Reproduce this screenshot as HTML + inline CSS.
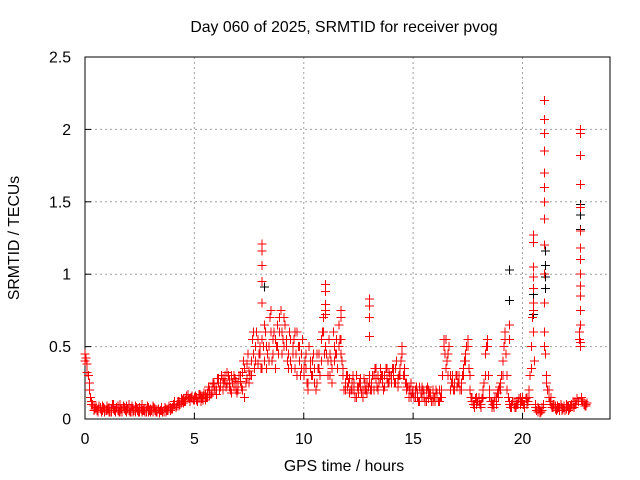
<!DOCTYPE html>
<html><head><meta charset="utf-8"><style>
body{margin:0;background:#fff}
svg{display:block;font-family:"Liberation Sans",sans-serif}
</style></head><body>
<svg id="chart" width="640" height="480">
<text x="344" y="32" text-anchor="middle" font-size="15.8">Day 060 of 2025, SRMTID for receiver pvog</text>
<text x="344" y="471" text-anchor="middle" font-size="15.8">GPS time / hours</text>
<text x="19" y="238" text-anchor="middle" font-size="15.8" transform="rotate(-90 19 238)">SRMTID / TECUs</text>
<g id="grid"></g>
<g id="axes"></g>
<g id="marks" shape-rendering="crispEdges"></g>
</svg>
<script>
const xTicks=[0,5,10,15,20];
const yTicks=[0,0.5,1,1.5,2,2.5];
const yTickLabels=["0","0.5","1","1.5","2","2.5"];
const hours=[];
for(let i=0;i<230;i++)hours.push(+(i*0.1).toFixed(1));
const hoursB=hours.map(h=>+(h+0.05).toFixed(2));
const srmtid=[
.45,.38,.2,.12,.09,.08,.07,.08,.06,.07,
.06,.08,.05,.07,.06,.09,.05,.06,.08,.05,
.06,.05,.07,.05,.06,.08,.05,.07,.06,.05,
.07,.05,.06,.05,.04,.06,.05,.07,.06,.08,
.08,.1,.09,.12,.11,.14,.13,.15,.12,.14,
.13,.15,.14,.16,.13,.17,.15,.2,.18,.22,
.2,.25,.22,.28,.3,.24,.27,.3,.22,.26,
.25,.3,.2,.35,.28,.33,.4,.45,.5,.38,
.45,.55,.4,.35,.5,.6,.45,.55,.65,.7,
.6,.5,.55,.45,.4,.5,.35,.6,.4,.45,
.3,.35,.25,.4,.3,.35,.25,.45,.55,.6,
.5,.4,.3,.35,.5,.55,.65,.45,.3,.25,
.22,.28,.2,.25,.3,.18,.22,.2,.25,.18,
.3,.25,.2,.28,.3,.35,.25,.3,.28,.32,
.3,.35,.25,.28,.3,.45,.35,.2,.15,.25,
.2,.15,.18,.22,.15,.18,.2,.14,.16,.2,
.15,.18,.2,.15,.5,.55,.45,.3,.25,.2,
.22,.3,.25,.35,.45,.5,.2,.12,.1,.15,
.12,.1,.15,.45,.55,.15,.08,.12,.15,.2,
.25,.4,.55,.2,.1,.08,.1,.12,.1,.15,
.12,.1,.15,.2,.5,.9,.08,.05,.06,.08,
.6,.3,.15,.1,.08,.07,.09,.08,.06,.08,
.07,.09,.08,.1,.12,.14,.6,.15,.1,.1];
const srmtidB=[
.42,.3,.15,.1,.07,.06,.09,.05,.08,.06,
.07,.05,.1,.06,.08,.05,.07,.09,.06,.07,
.05,.09,.06,.08,.05,.07,.06,.05,.09,.06,
.06,.08,.05,.07,.06,.05,.08,.06,.09,.07,
.1,.08,.12,.1,.13,.12,.16,.14,.15,.13,
.16,.12,.17,.14,.18,.15,.22,.17,.25,.2,
.28,.2,.3,.25,.22,.3,.2,.25,.28,.18,
.3,.22,.4,.25,.45,.3,.55,.35,.6,.45,
.35,.5,.6,.45,.7,.4,.6,.5,.45,.75,
.55,.65,.4,.6,.35,.55,.45,.5,.3,.55,
.4,.25,.5,.3,.45,.2,.35,.3,.6,.45,
.45,.55,.4,.6,.45,.35,.55,.4,.2,.3,
.25,.2,.3,.15,.22,.25,.18,.28,.2,.22,
.2,.3,.35,.22,.25,.3,.2,.35,.25,.3,
.35,.25,.4,.3,.4,.3,.25,.22,.2,.18,
.15,.22,.12,.18,.2,.12,.22,.18,.12,.15,
.2,.12,.15,.3,.45,.4,.5,.25,.2,.3,
.25,.2,.3,.4,.5,.35,.15,.1,.14,.12,
.1,.14,.25,.5,.3,.12,.1,.15,.18,.22,
.3,.5,.45,.15,.08,.12,.08,.1,.14,.12,
.1,.14,.12,.3,.7,.4,.06,.07,.05,.1,
.45,.2,.12,.08,.1,.06,.08,.1,.07,.06,
.09,.07,.1,.08,.1,.12,.5,.12,.09,.11];
const srmtidC=[
.4,.32,.25,.1,.06,.09,.05,.07,.09,.05,
.09,.05,.07,.1,.05,.06,.1,.05,.07,.09,
.1,.07,.05,.09,.07,.05,.1,.06,.05,.08,
.05,.09,.07,.06,.05,.08,.06,.05,.07,.06,
.07,.12,.1,.09,.14,.11,.12,.17,.14,.16,
.15,.13,.17,.12,.16,.13,.18,.16,.2,.24,
.17,.28,.25,.2,.27,.32,.22,.18,.3,.2,
.2,.26,.32,.15,.38,.25,.3,.6,.4,.55,
.5,.35,.65,.5,.4,.75,.55,.35,.5,.6,
.45,.7,.5,.35,.55,.45,.6,.3,.5,.35,
.35,.45,.2,.35,.4,.25,.45,.35,.4,.7,
.75,.3,.45,.25,.4,.45,.5,.55,.35,.2,
.3,.18,.25,.2,.15,.22,.28,.15,.2,.25,
.25,.2,.3,.35,.2,.28,.3,.22,.35,.25,
.25,.3,.35,.22,.35,.5,.3,.25,.22,.15,
.18,.2,.15,.12,.22,.15,.12,.2,.18,.12,
.12,.15,.12,.2,.55,.35,.3,.2,.3,.25,
.3,.25,.2,.3,.4,.55,.3,.15,.08,.1,
.15,.08,.2,.3,.5,.2,.12,.08,.1,.15,
.2,.3,.6,.3,.12,.1,.12,.08,.12,.1,
.15,.08,.1,.15,.35,.8,.1,.08,.04,.06,
.5,.25,.2,.15,.1,.09,.07,.06,.08,.09,
.1,.06,.09,.12,.1,.13,.55,.13,.12,.09];
const spikeHours=[8.1,8.1,8.1,8.1,8.1,11,11,11,11,11.7,11.7,13,13,13,13,19.4,19.4,
20.5,20.5,20.5,20.5,20.5,20.5,20.5,21,21,21,21,21,21,21,21,21,21,21,
22.65,22.65,22.65,22.65,22.65,22.65,22.65,22.65,22.65,22.65,22.65,22.65,22.65,22.65];
const spikeValues=[1.21,1.16,1.06,0.95,0.8,0.93,0.88,0.79,0.72,0.75,0.7,0.83,0.78,0.7,0.57,0.65,0.55,
1.27,1.22,1.05,0.98,0.9,0.75,0.6,2.2,2.07,1.97,1.85,1.7,1.6,1.5,1.38,1.2,1.0,0.8,
2.0,1.97,1.82,1.62,1.46,1.3,1.18,1.1,1.0,0.92,0.85,0.75,0.65,0.53];
const blackHours=[19.4,19.4,20.5,20.5,21.05,21.05,21.05,21.05,22.65,22.65,22.65,8.2];
const blackValues=[1.03,0.82,0.86,0.72,1.16,1.06,0.98,0.9,1.48,1.41,1.31,0.91];

const L=85,R=610,T=57,B=419;
const xs=v=>L+(v/24)*(R-L);
const ys=v=>B-(v/2.5)*(B-T);
const NS="http://www.w3.org/2000/svg";
function mk(tag,attrs,parent){const e=document.createElementNS(NS,tag);for(const k in attrs)e.setAttribute(k,attrs[k]);parent.appendChild(e);return e;}
const grid=document.getElementById('grid'),axes=document.getElementById('axes'),marks=document.getElementById('marks');
xTicks.forEach(t=>{
 if(t>0){const g=mk('line',{x1:xs(t),x2:xs(t),y1:T,y2:B,stroke:'#a0a0a0','stroke-dasharray':'2,3'},grid);
 
 }
 const tk=mk('line',{x1:xs(t),x2:xs(t),y1:B,y2:B-6,stroke:'#000'},axes);
 
 
 const lb=mk('text',{x:xs(t),y:B+25,'text-anchor':'middle','font-size':15.8},axes);lb.textContent=t;
 
 
});
yTicks.forEach((t,i)=>{
 if(t>0&&t<2.5){const g=mk('line',{x1:L,x2:R,y1:ys(t),y2:ys(t),stroke:'#a0a0a0','stroke-dasharray':'2,3'},grid);
 
 }
 const tk=mk('line',{x1:L,x2:L+6,y1:ys(t),y2:ys(t),stroke:'#000'},axes);
 
 
 const lb=mk('text',{x:L-14,y:ys(t)+5.5,'text-anchor':'end','font-size':15.8},axes);lb.textContent=yTickLabels[i];
 
 
});
const fr=mk('rect',{x:L,y:T,width:R-L,height:B-T,fill:'none',stroke:'#000'},axes);


function plus(x,y,c,name){
 const p=mk('path',{d:`M${x-4.5},${y}h9M${x},${y-4.5}v9`,stroke:c,'stroke-width':1,fill:'none'},marks);
 
 
}
blackHours.forEach((h,i)=>plus(xs(h),ys(blackValues[i]),'#000','black-point'));
hours.forEach((h,i)=>plus(xs(h),ys(srmtid[i]),'#f00','red-point'));
hoursB.forEach((h,i)=>plus(xs(h),ys(srmtidB[i]),'#f00','red-point'));
hours.forEach((h,i)=>plus(xs(h),ys(srmtidC[i]),'#f00','red-point'));
spikeHours.forEach((h,i)=>plus(xs(h),ys(spikeValues[i]),'#f00','red-spike-point'));
</script>
</body></html>
